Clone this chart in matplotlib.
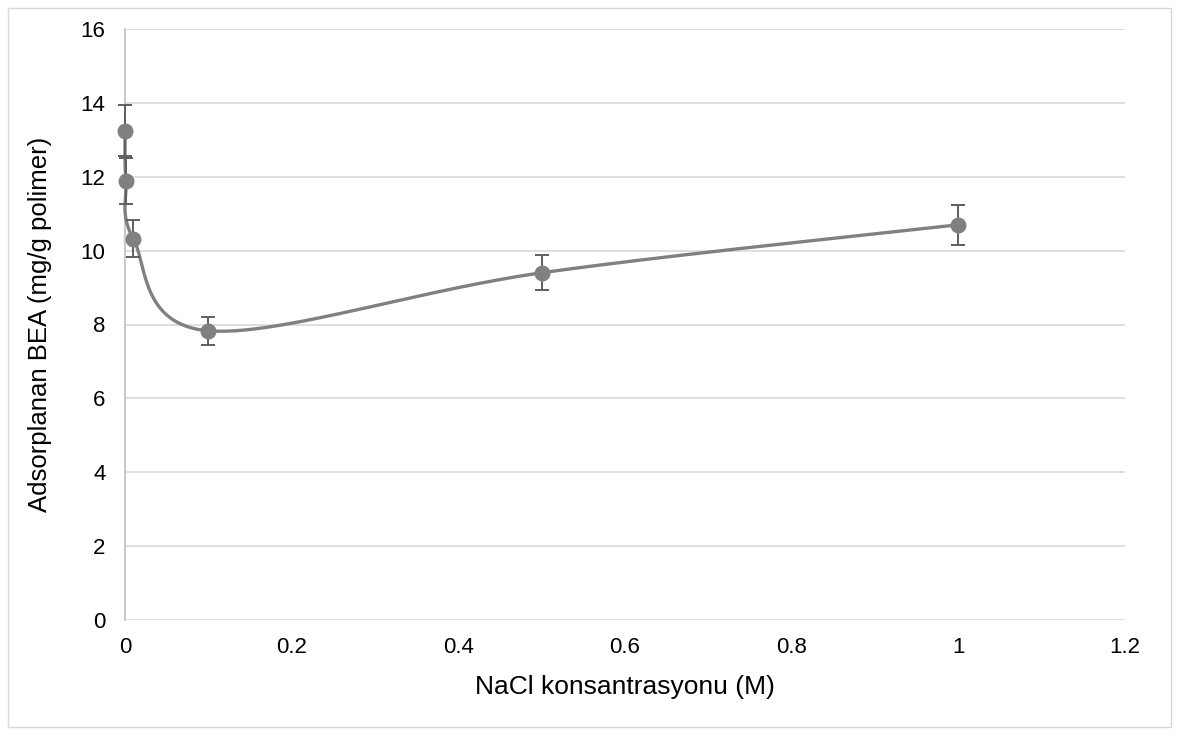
import numpy as np
import matplotlib
matplotlib.use("Agg")
import matplotlib.pyplot as plt
from matplotlib.patches import Rectangle

plt.rcParams['font.family'] = ['Liberation Sans', 'DejaVu Sans']

nacl = [0.0, 0.001, 0.01, 0.1, 0.5, 1.0]
adsorbed = [13.25, 11.88, 10.32, 7.83, 9.40, 10.70]
err = [0.68, 0.62, 0.50, 0.38, 0.47, 0.54]
xticks = [0, 0.2, 0.4, 0.6, 0.8, 1, 1.2]
xticklabels = ['0', '0.2', '0.4', '0.6', '0.8', '1', '1.2']
yticks = [0, 2, 4, 6, 8, 10, 12, 14, 16]


def excel_smooth(x, y, n=60):
    x = np.asarray(x, float); y = np.asarray(y, float)
    P = np.column_stack([x, y])
    out = []
    for i in range(len(P) - 1):
        p0 = P[i - 1] if i > 0 else P[i]
        p1 = P[i]; p2 = P[i + 1]
        p3 = P[i + 2] if i + 2 < len(P) else P[i + 1]
        c1 = p1 + (p2 - p0) / 6.0
        c2 = p2 - (p3 - p1) / 6.0
        t = np.linspace(0, 1, n)[:, None]
        seg = ((1 - t) ** 3) * p1 + 3 * ((1 - t) ** 2) * t * c1 + 3 * (1 - t) * t ** 2 * c2 + t ** 3 * p2
        out.append(seg if i == 0 else seg[1:])
    return np.vstack(out)


W, H = 1179, 735
fig = plt.figure(figsize=(W / 100, H / 100), dpi=100)
fig.patches.append(Rectangle((8 / W, 8 / H), (W - 16) / W, (H - 16) / H, transform=fig.transFigure,
                             fill=False, edgecolor='#d9d9d9', linewidth=1))
ax = fig.add_axes([125 / W, 1 - 620 / H, 1000 / W, 591 / H])
ax.set_xlim(0, 1.2)
ax.set_ylim(0, 16)
ax.set_xticks(xticks)
ax.set_xticklabels(xticklabels)
ax.set_yticks(yticks)
ax.grid(axis='y', color='#d9d9d9', linewidth=1.2)
ax.set_axisbelow(True)
for s in ['top', 'right', 'bottom']:
    ax.spines[s].set_visible(False)
ax.spines['left'].set_color('#bfbfbf')
ax.spines['left'].set_linewidth(1.2)
ax.tick_params(length=0, labelsize=16, colors='#000000')
ax.tick_params(axis='y', pad=14)
ax.tick_params(axis='x', pad=12)

xs = np.array(nacl) / 1.2 * 1000
ys = np.array(adsorbed) / 16 * 591
curve = excel_smooth(xs, ys)
ax.plot(curve[:, 0] / 1000 * 1.2, curve[:, 1] / 591 * 16, color='#808080', linewidth=2.4, zorder=3, clip_on=False)
ax.errorbar(nacl, adsorbed, yerr=err, fmt='o', color='#808080', markersize=10.5,
            ecolor='#5f5f5f', elinewidth=1.4, capsize=5, capthick=1.4, zorder=4, clip_on=False)

ax.set_xlabel('NaCl konsantrasyonu (M)', fontsize=19)
ax.set_ylabel('Adsorplanan BEA (mg/g polimer)', fontsize=18.5)
ax.xaxis.label.set_va('center')
ax.yaxis.label.set_va('center')
ax.xaxis.set_label_coords(0.5, (620 - 687) / 591)
ax.yaxis.set_label_coords((40 - 125) / 1000, 0.5)

fig.savefig('out.png', dpi=100)
